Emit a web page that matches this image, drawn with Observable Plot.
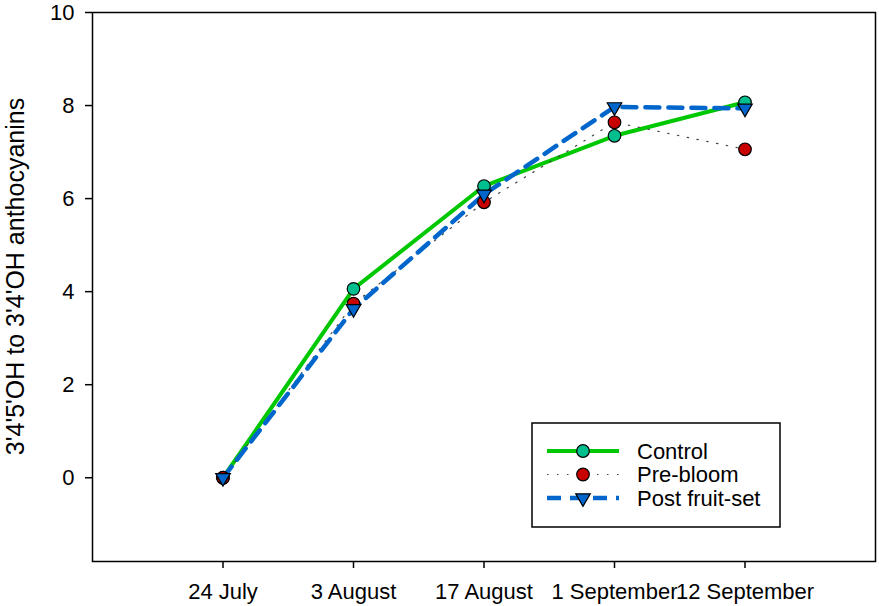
<!DOCTYPE html>
<html>
<head>
<meta charset="utf-8">
<script src="https://cdn.jsdelivr.net/npm/d3@7"></script>
<script src="https://cdn.jsdelivr.net/npm/@observablehq/plot@0.6"></script>
<style>
  html, body { margin: 0; padding: 0; background: white; }
  #chart svg { display: block; }
</style>
</head>
<body>
<div id="chart"></div>
<script>
const dates = ["24 July", "3 August", "17 August", "1 September", "12 September"];
const seriesNames = ["Control", "Pre-bloom", "Post fruit-set"];
const control = [0, 4.06, 6.27, 7.35, 8.07];
const preBloom = [0, 3.74, 5.92, 7.64, 7.06];
const postFruitSet = [0, 3.63, 6.09, 7.97, 7.94];
const yTicks = [0, 2, 4, 6, 8, 10];
const yTitle = "3'4'5'OH to 3'4'OH anthocyanins";

const toRows = (vals) => dates.map((d, i) => ({date: d, value: vals[i]}));
const rowsC = toRows(control);
const rowsP = toRows(preBloom);
const rowsF = toRows(postFruitSet);

const greenLine = "#00c800";
const tealFill = "#00bf8f";
const redFill = "#c80000";
const blue = "#0066cc";
const font = "'Liberation Sans', Arial, Helvetica, sans-serif";

const chart = Plot.plot({
  width: 879,
  height: 606,
  marginLeft: 92,
  marginRight: 4,
  marginTop: 12,
  marginBottom: 45,
  style: {fontFamily: font, fontSize: "22px", background: "white", color: "black", overflow: "visible"},
  x: {type: "point", domain: dates, padding: 1, round: false},
  y: {domain: [-1.8, 10]},
  marks: [
    Plot.axisX({ticks: dates, tickSize: 7, tickPadding: 15, fontSize: 22, label: null, strokeWidth: 1.5}),
    Plot.axisY({ticks: yTicks, tickSize: 7, tickPadding: 11, fontSize: 22, label: null, strokeWidth: 1.5}),
    Plot.frame({stroke: "black", strokeWidth: 1.5}),
    Plot.text([yTitle], {frameAnchor: "left", textAnchor: "middle", lineAnchor: "middle", rotate: -90, dx: -77, dy: -10.5, fontSize: 25, fill: "black"}),
    Plot.line(rowsC, {x: "date", y: "value", stroke: greenLine, strokeWidth: 4}),
    Plot.line(rowsP, {x: "date", y: "value", stroke: "#444", strokeWidth: 1.2, strokeDasharray: "1.5 8.5"}),
    Plot.line(rowsF, {x: "date", y: "value", stroke: blue, strokeWidth: 4.5, strokeDasharray: "14 9"}),
    Plot.dot(rowsC, {x: "date", y: "value", r: 6.3, fill: tealFill, stroke: "black", strokeWidth: 1.2}),
    Plot.dot(rowsP, {x: "date", y: "value", r: 6.3, fill: redFill, stroke: "black", strokeWidth: 1.2}),
    Plot.dot(rowsF, {x: "date", y: "value", r: 5.4, symbol: "triangle", rotate: 180, fill: blue, stroke: "black", strokeWidth: 1.2})
  ]
});

document.getElementById("chart").appendChild(chart);

// Legend (inside the plot area, as in the reference)
const svg = d3.select(chart);
const lg = svg.append("g").attr("font-family", font).attr("font-size", 22).attr("text-anchor", "start");
lg.append("rect").attr("x", 532).attr("y", 423).attr("width", 248).attr("height", 104)
  .attr("fill", "white").attr("stroke", "black").attr("stroke-width", 1.5);
const rowY = [451, 474.5, 498];
const styles = [
  {stroke: greenLine, width: 4, dash: null, fill: tealFill, sym: "circle"},
  {stroke: "#444", width: 1.2, dash: "1.5 8.5", fill: redFill, sym: "circle"},
  {stroke: blue, width: 4.5, dash: "14 9", fill: blue, sym: "triangle"}
];
seriesNames.forEach((name, i) => {
  const s = styles[i], y = rowY[i];
  const ln = lg.append("line").attr("x1", 547).attr("x2", 619).attr("y1", y).attr("y2", y)
    .attr("stroke", s.stroke).attr("stroke-width", s.width);
  if (s.dash) ln.attr("stroke-dasharray", s.dash);
  if (s.sym === "circle") {
    lg.append("circle").attr("cx", 583).attr("cy", y).attr("r", 6.3)
      .attr("fill", s.fill).attr("stroke", "black").attr("stroke-width", 1.2);
  } else {
    lg.append("path").attr("d", d3.symbol(d3.symbolTriangle, Math.PI * 5.4 * 5.4)())
      .attr("transform", `translate(583,${y}) rotate(180)`)
      .attr("fill", s.fill).attr("stroke", "black").attr("stroke-width", 1.2);
  }
  lg.append("text").attr("x", 637).attr("y", y).attr("dy", "0.35em")
    .attr("text-anchor", "start").attr("fill", "black").text(name);
});
</script>
</body>
</html>
